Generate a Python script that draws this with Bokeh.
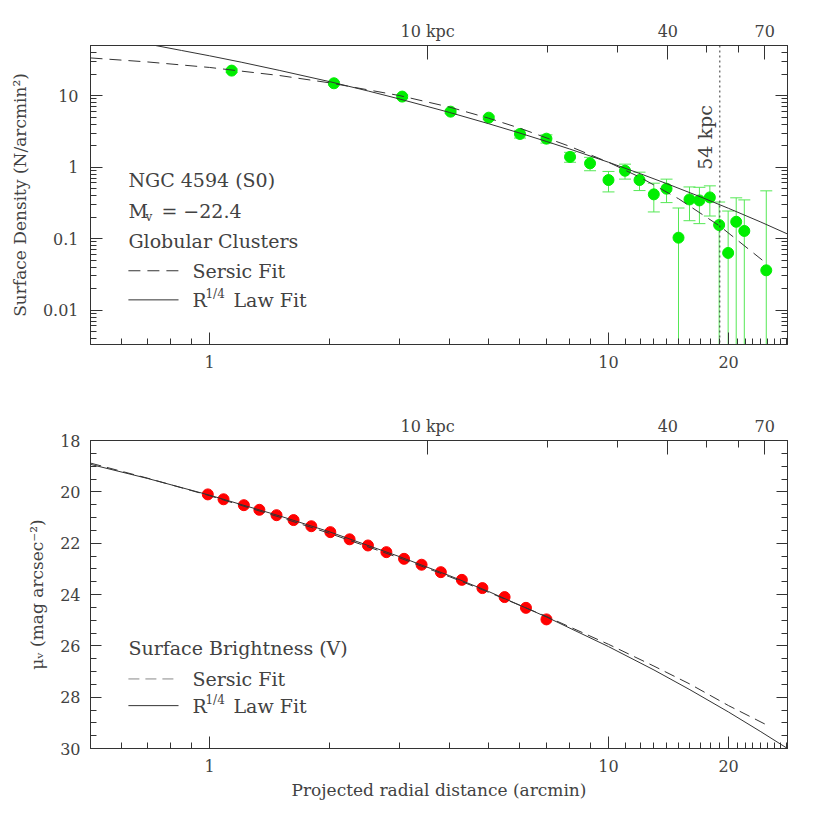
import numpy as np
from math import pi
from bokeh.plotting import figure
from bokeh.layouts import column
from bokeh.models import (Range1d, LogAxis, LinearAxis, FixedTicker, LogScale,
                          Whisker, ColumnDataSource, Span, Label, TeeHead)
from bokeh.embed import file_html
from bokeh.resources import INLINE

# ---------------- data ----------------
KPC_PER_ARCMIN = 2.84
EDGE_KPC = 54
X_MIN, X_MAX = 0.503, 28.1
SD_MIN, SD_MAX = 0.0033, 50.3
MU_TOP, MU_BOTTOM = 18, 30

# globular cluster surface density (N/arcmin^2)
gc_r = [1.136, 2.05, 3.04, 4.02, 5.01, 6.0, 6.99, 8.01, 8.99, 10.0, 11.0, 11.96,
        12.99, 13.98, 14.98, 15.96, 16.9, 17.95, 18.94, 19.95, 20.9, 21.9, 24.86]
gc_density = [22.4, 14.9, 9.7, 5.97, 4.92, 2.91, 2.5, 1.39, 1.13, 0.66, 0.89, 0.66,
              0.416, 0.499, 0.103, 0.353, 0.342, 0.377, 0.155, 0.063, 0.172, 0.128, 0.036]
gc_err = [1.2, 0.8, 0.5, 0.3, 0.25, 0.36, 0.33, 0.22, 0.24, 0.21, 0.21, 0.19,
          0.18, 0.18, 0.165, 0.175, 0.18, 0.17, 0.17, 0.18, 0.2, 0.22, 0.43]

# fits to the cluster density
r14_gc_r = [0.503, 0.6, 0.732, 0.85, 1, 1.2, 1.5, 2, 2.5, 3, 4, 5, 6, 7, 8, 10,
            12, 14, 17, 20, 24, 28.1]
r14_gc_sd = [72.0, 61.2, 50.3, 42.9, 36.1, 29.4, 22.5, 15.7, 11.6, 8.95, 5.81, 4.06,
             2.99, 2.28, 1.79, 1.17, 0.811, 0.587, 0.384, 0.265, 0.172, 0.116]
sersic_gc_r = [0.503, 0.7, 1, 1.5, 2, 3, 4, 5, 6, 8, 10, 12, 15, 19, 24.3]
sersic_gc_sd = [33.7, 29.6, 24.8, 19.1, 15.1, 10.0, 6.9, 4.85, 3.5, 1.95, 1.17,
                0.72, 0.36, 0.15, 0.050]

# V surface brightness
sb_r = [0.99, 1.084, 1.219, 1.333, 1.472, 1.624, 1.799, 2.008, 2.244, 2.495,
        2.775, 3.073, 3.40, 3.80, 4.29, 4.83, 5.49, 6.21, 6.99]
sb_mu = [20.10, 20.29, 20.52, 20.70, 20.91, 21.10, 21.34, 21.57, 21.85, 22.09,
         22.35, 22.61, 22.84, 23.13, 23.43, 23.75, 24.10, 24.52, 24.97]

r14_sb_r = [0.503, 0.7, 1, 1.5, 2, 3, 4, 5, 7, 10, 13, 16, 20, 24, 28.1]
r14_sb_mu = [18.93, 19.48, 20.13, 20.94, 21.56, 22.53, 23.27, 23.88, 24.88, 26.03,
             26.94, 27.71, 28.58, 29.33, 30.0]
sersic_sb_r = [0.503, 0.7, 1, 1.5, 2, 3, 4, 5, 7, 10, 13, 16, 20, 24.9]
sersic_sb_mu = [18.88, 19.47, 20.15, 20.99, 21.62, 22.58, 23.31, 23.91, 24.86,
                25.94, 26.79, 27.49, 28.33, 29.08]

# ticks
x_major = [1, 10, 20]
x_labels = {1: "1", 10: "10", 20: "20"}
kpc_major = [10, 40, 70]
kpc_minor = [20, 30, 50, 60]
kpc_labels = {10: "10 kpc", 40: "40", 70: "70"}
sd_major = [0.01, 0.1, 1, 10]
sd_labels = {0.01: "0.01", 0.1: "0.1", 1: "1", 10: "10"}
mu_major = [18, 20, 22, 24, 26, 28, 30]

# annotation placement (data units)
KEY_X = (0.626, 0.836)
TEXT_X = 0.626
KEY_TEXT_X = 0.906

FONT = "DejaVu Serif"
INK = "#333333"
TEXT_INK = "#424242"
GREEN = "#00ee00"
ERR = "#55e855"
RED = "#ff0000"

x_minor = [m * 10 ** e for e in range(-1, 2) for m in range(2, 10)] + \
          list(range(11, 20)) + list(range(21, 29))
x_minor = [v for v in x_minor if v not in x_major]
sd_minor = [m * 10.0 ** e for e in range(-3, 2) for m in range(2, 10)]
mu_minor = [v / 2 for v in range(2 * MU_TOP, 2 * MU_BOTTOM + 1) if (v / 2) not in mu_major]


def style_axis(ax, major_in=12, minor_in=6, standoff=12, label_standoff=10):
    ax.axis_line_color = INK
    ax.major_tick_line_color = INK
    ax.minor_tick_line_color = INK
    ax.major_tick_in = major_in
    ax.major_tick_out = 0
    ax.minor_tick_in = minor_in
    ax.minor_tick_out = 0
    ax.major_label_text_font = FONT
    ax.major_label_text_font_size = "16px"
    ax.major_label_text_color = TEXT_INK
    ax.major_label_standoff = standoff
    ax.axis_label_text_font = FONT
    ax.axis_label_text_font_style = "normal"
    ax.axis_label_text_font_size = "17px"
    ax.axis_label_text_color = TEXT_INK
    ax.axis_label_standoff = label_standoff


def add_text(p, x, y, text, size="19px", **kw):
    p.add_layout(Label(x=x, y=y, text=text, text_font=FONT, text_font_size=size,
                       text_color=TEXT_INK, text_baseline="middle", **kw))


def kpc_axis(p):
    p.extra_x_ranges = {"kpc": Range1d(X_MIN * KPC_PER_ARCMIN, X_MAX * KPC_PER_ARCMIN)}
    p.extra_x_scales = {"kpc": LogScale()}
    ax = LogAxis(x_range_name="kpc",
                 ticker=FixedTicker(ticks=kpc_major, minor_ticks=kpc_minor),
                 major_label_overrides=kpc_labels)
    style_axis(ax, major_in=14, minor_in=7, standoff=5)
    p.add_layout(ax, "above")


def base_fig(height, y_log, y_range, border_top, border_bottom):
    p = figure(width=826, height=height, x_axis_type="log",
               y_axis_type="log" if y_log else "linear",
               x_range=Range1d(X_MIN, X_MAX), y_range=y_range,
               output_backend="svg", toolbar_location=None,
               min_border_left=90, min_border_right=39,
               min_border_top=border_top, min_border_bottom=border_bottom)
    p.grid.visible = False
    p.outline_line_color = INK
    p.background_fill_color = "white"
    p.border_fill_color = "white"
    xa = p.below[0]
    xa.ticker = FixedTicker(ticks=x_major, minor_ticks=x_minor)
    xa.major_label_overrides = x_labels
    style_axis(xa, standoff=11, label_standoff=5)
    kpc_axis(p)
    return p


def right_axis(p, axis_cls, ticker, major_in, minor_in):
    ax = axis_cls(ticker=ticker, major_label_overrides={t: "" for t in ticker.ticks})
    style_axis(ax, major_in=major_in, minor_in=minor_in, standoff=0)
    p.add_layout(ax, "right")


# ---------------- top panel ----------------
p1 = base_fig(392, True, Range1d(SD_MIN, SD_MAX), 45, 48)
ya = p1.left[0]
ya.ticker = FixedTicker(ticks=sd_major, minor_ticks=sd_minor)
ya.major_label_overrides = sd_labels
ya.axis_label = "Surface Density (N/arcmin²)"
style_axis(ya, major_in=12, minor_in=6, standoff=12, label_standoff=10)
right_axis(p1, LogAxis, FixedTicker(ticks=sd_major, minor_ticks=sd_minor), 12, 6)

lower = np.maximum(np.array(gc_density) - np.array(gc_err), 1e-5)
upper = np.array(gc_density) + np.array(gc_err)
src = ColumnDataSource(dict(x=gc_r, y=gc_density, lower=lower, upper=upper))
p1.add_layout(Whisker(source=src, base="x", lower="lower", upper="upper",
                      dimension="height", line_color=ERR, line_width=1,
                      upper_head=TeeHead(size=12, line_color=ERR, line_width=1),
                      lower_head=TeeHead(size=12, line_color=ERR, line_width=1)))
p1.scatter("x", "y", source=src, size=11, fill_color=GREEN, line_color=GREEN)
p1.add_layout(Span(location=EDGE_KPC / KPC_PER_ARCMIN, dimension="height",
                   line_color=INK, line_dash="2 3", line_width=1))
p1.line(r14_gc_r, r14_gc_sd, line_color=INK, line_width=1)
p1.line(sersic_gc_r, sersic_gc_sd, line_color=INK, line_width=1, line_dash="12 7")

p1.add_layout(Label(x=EDGE_KPC / KPC_PER_ARCMIN, y=2.6, text=f"{EDGE_KPC} kpc",
                    angle=pi / 2, text_align="center", text_baseline="bottom",
                    x_offset=-4, text_font=FONT, text_font_size="19px",
                    text_color=TEXT_INK))

add_text(p1, TEXT_X, 0.66, "NGC 4594 (S0)")
add_text(p1, TEXT_X, 0.24, "M")
add_text(p1, TEXT_X, 0.24, "v", size="12px", x_offset=17, y_offset=-6)
add_text(p1, TEXT_X, 0.24, "= \u221222.4", x_offset=33)
add_text(p1, TEXT_X, 0.0933, "Globular Clusters")
p1.line(list(KEY_X), [0.0355, 0.0355], line_color=INK, line_width=1, line_dash="12 7")
add_text(p1, KEY_TEXT_X, 0.0355, "Sersic Fit")
p1.line(list(KEY_X), [0.0139, 0.0139], line_color=INK, line_width=1)
add_text(p1, KEY_TEXT_X, 0.0139, "R")
add_text(p1, KEY_TEXT_X, 0.0139, "1/4", size="12px", x_offset=13, y_offset=6)
add_text(p1, KEY_TEXT_X, 0.0139, "Law Fit", x_offset=41)

# ---------------- bottom panel ----------------
p2 = base_fig(430, False, Range1d(MU_BOTTOM, MU_TOP), 48, 74)
p2.below[0].axis_label = "Projected radial distance (arcmin)"
ya2 = p2.left[0]
ya2.ticker = FixedTicker(ticks=mu_major, minor_ticks=mu_minor)
ya2.axis_label = "\u03bc\u1d65 (mag arcsec\u207b\u00b2)"
style_axis(ya2, major_in=11, minor_in=6, standoff=10, label_standoff=10)
right_axis(p2, LinearAxis, FixedTicker(ticks=mu_major, minor_ticks=mu_minor), 11, 6)

p2.scatter(sb_r, sb_mu, size=11, fill_color=RED, line_color=RED)
p2.line(r14_sb_r, r14_sb_mu, line_color=INK, line_width=1)
p2.line(sersic_sb_r, sersic_sb_mu, line_color=INK, line_width=1, line_dash="11 6")

add_text(p2, TEXT_X, 26.08, "Surface Brightness (V)")
p2.line(list(KEY_X), [27.29, 27.29], line_color="#888888", line_width=1, line_dash="11 6")
add_text(p2, KEY_TEXT_X, 27.29, "Sersic Fit")
p2.line(list(KEY_X), [28.33, 28.33], line_color=INK, line_width=1)
add_text(p2, KEY_TEXT_X, 28.33, "R")
add_text(p2, KEY_TEXT_X, 28.33, "1/4", size="12px", x_offset=13, y_offset=6)
add_text(p2, KEY_TEXT_X, 28.33, "Law Fit", x_offset=41)

layout = column(p1, p2, spacing=0)
open("out.html", "w").write(file_html(layout, INLINE))
